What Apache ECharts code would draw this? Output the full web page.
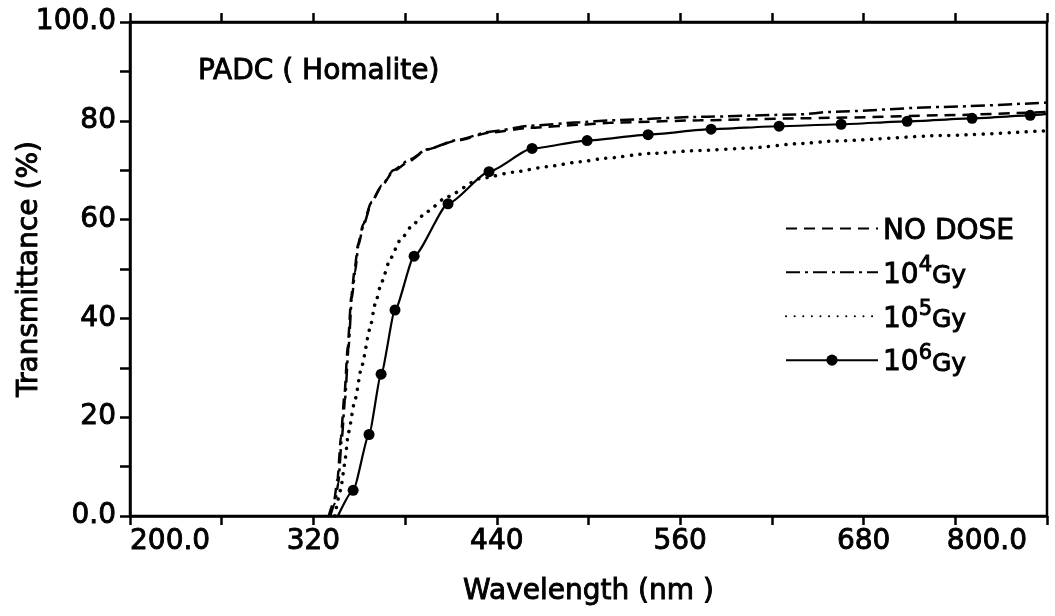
<!DOCTYPE html>
<html>
<head>
<meta charset="utf-8">
<script src="https://cdn.jsdelivr.net/npm/echarts@6/dist/echarts.min.js"></script>
<style>
html,body{margin:0;padding:0;background:#fff;}
#chart{width:1055px;height:616px;}
</style>
</head>
<body>
<div id="chart"></div>
<script>
// ---- data ----
const noDoseWl = [330, 333.5, 335.8, 338, 340.3, 342.5, 344.8, 347, 349.2, 352.5, 358, 364.7, 372.3, 383.2, 394.2, 413.8, 435.6, 461.8, 494.5, 514, 573, 638.5, 658, 730, 800];
const noDoseT  = [0, 3, 7.5, 16, 24.5, 34.5, 44.5, 50, 55, 59, 63.6, 66.8, 69.8, 71.9, 74.2, 76.0, 77.6, 78.6, 79.2, 79.6, 80.1, 80.5, 80.6, 81.1, 81.8];

const gy4Wl = [331, 334.2, 336.3, 338.5, 340.7, 342.9, 345.1, 347.3, 349.4, 352.7, 358.2, 364.7, 372.3, 383.2, 394.2, 413.8, 435.6, 461.8, 494.5, 514, 573, 638.5, 658, 730, 800];
const gy4T  = [0, 2.6, 6.7, 15.4, 23.6, 33.7, 43.9, 49.4, 54.7, 58.8, 63.6, 66.9, 70.0, 72.2, 74.2, 76.1, 77.8, 79.0, 79.7, 80.1, 80.8, 81.3, 81.8, 82.8, 83.7];

const gy5Wl = [334, 337.9, 339.6, 340.7, 342.9, 347.3, 351.6, 357.1, 360.3, 364.7, 370.2, 376.7, 385.4, 394.2, 407.3, 429.1, 450.9, 472.7, 494.5, 510.9, 540.3, 573, 605.8, 638.5, 660.3, 730, 800];
const gy5T  = [0, 5.3, 8.7, 11.4, 16.9, 23.6, 30.3, 38, 42.8, 47.4, 52.0, 55.8, 59.1, 61.6, 64.6, 68.3, 69.6, 70.7, 71.7, 72.4, 73.4, 74.0, 74.5, 75.4, 75.9, 77.0, 78.0];

const gy6Wl = [336, 346, 356.4, 364.3, 373.4, 385.9, 408.1, 434.9, 463.1, 499.1, 539.0, 580.2, 624.7, 665.3, 708.5, 751.0, 789.0, 800];
const gy6T  = [0, 5.2, 16.5, 28.7, 41.7, 52.6, 63.2, 69.7, 74.4, 76.0, 77.2, 78.3, 78.9, 79.3, 79.9, 80.5, 81.1, 81.4];

const seriesNames = ['NO DOSE', '10^4Gy', '10^5Gy', '10^6Gy'];
const xLabelTicks = [200, 320, 440, 560, 680, 800];
const yLabelTicks = [0, 20, 40, 60, 80, 100];
const titleText = 'PADC ( Homalite)';
const xName = 'Wavelength (nm )';
const yName = 'Transmittance (%)';

// ---- build ----
const FONT = 'DejaVu Sans';
function ts(size, extra){
  return Object.assign({fontFamily:FONT, fontSize:size, fontWeight:'normal', color:'#000', textBorderColor:'#000', textBorderWidth:0.9}, extra||{});
}
function pairs(xs, ys){ return xs.map((x,i)=>[x, ys[i]]); }
const gy6Data = pairs(gy6Wl, gy6T).map((p,i,a)=>(i===0||i===a.length-1)?{value:p, symbol:'none'}:p);

function xFmt(v){
  if (xLabelTicks.indexOf(v) < 0) return '';
  if (v === 200) return v.toFixed(1);
  if (v === 800) return '{r|' + v.toFixed(1) + '}';
  return String(v);
}
function yFmt(v){
  if (yLabelTicks.indexOf(v) < 0) return '';
  if (v === 0 || v === 100) return v.toFixed(1);
  return String(v);
}

const chart = echarts.init(document.getElementById('chart'), null, {renderer:'canvas'});
const base = {type:'line', smooth:0.2, smoothMonotone:'x', showSymbol:false, symbol:'none', color:'#000'};
chart.setOption({
  animation:false,
  backgroundColor:'#fff',
  title:{text:titleText, left:193, top:53, textStyle:ts(28)},
  grid:{left:130, right:8, top:22, bottom:100, outerBoundsMode:'none', containLabel:false, show:true, borderColor:'#000', borderWidth:2.5},
  legend:{
    orient:'vertical', left:780, top:212, itemWidth:92, itemHeight:14, itemGap:9,
    data:seriesNames.map((n,i)=> i<3 ? {name:n, itemStyle:{opacity:0}} : {name:n}),
    formatter:function(name){
      if (name.indexOf('^')<0) return '{b|'+name+'}';
      const m = name.match(/^(\d+)\^(\d+)(.*)$/);
      return '{b|'+m[1]+'}{s|'+m[2]+'}{g|'+m[3]+'}';
    },
    textStyle:ts(28, {
      rich:{
        b:ts(28, {lineHeight:34, verticalAlign:'bottom'}),
        s:ts(21, {lineHeight:34, verticalAlign:'top'}),
        g:ts(25, {lineHeight:34, verticalAlign:'bottom'})
      }
    })
  },
  xAxis:[{
    type:'value', min:200, max:800, interval:60, position:'bottom',
    name:xName, nameLocation:'middle', nameGap:62, nameMoveOverlap:false,
    nameTextStyle:ts(28),
    axisLine:{show:true, lineStyle:{color:'#000', width:2.5}},
    axisTick:{show:true, inside:false, length:9, lineStyle:{color:'#000', width:2.5}},
    axisLabel:Object.assign(ts(28), {formatter:xFmt, margin:12, alignMinLabel:'left', alignMaxLabel:'right', showMinLabel:true, showMaxLabel:true,
      rich:{r:ts(28, {padding:[0,20,0,0]})}}),
    splitLine:{show:false}
  },{
    type:'value', min:200, max:800, interval:60, position:'top',
    axisLine:{show:true, lineStyle:{color:'#000', width:2.5}},
    axisTick:{show:true, inside:false, length:9, lineStyle:{color:'#000', width:2.5}},
    axisLabel:{show:false}, splitLine:{show:false}
  }],
  yAxis:[{
    type:'value', min:0, max:100, interval:10,
    name:yName, nameLocation:'middle', nameGap:86, nameRotate:90, nameMoveOverlap:false,
    nameTextStyle:ts(28),
    axisLine:{show:true, lineStyle:{color:'#000', width:2.5}},
    axisTick:{show:true, inside:false, length:10, lineStyle:{color:'#000', width:2.5}},
    axisLabel:Object.assign(ts(28), {formatter:yFmt, margin:14, showMinLabel:true, showMaxLabel:true}),
    splitLine:{show:false}
  }],
  series:[
    Object.assign({}, base, {name:seriesNames[0], data:pairs(noDoseWl, noDoseT), lineStyle:{color:'#000', width:2.5, type:[11,7]}}),
    Object.assign({}, base, {name:seriesNames[1], data:pairs(gy4Wl, gy4T), lineStyle:{color:'#000', width:2.5, type:[14,5,3,5]}}),
    Object.assign({}, base, {name:seriesNames[2], data:pairs(gy5Wl, gy5T), lineStyle:{color:'#000', width:3.5, type:[0.1,8.5], cap:'round'}}),
    Object.assign({}, base, {name:seriesNames[3], data:gy6Data, showSymbol:true, symbol:'circle', symbolSize:11,
      itemStyle:{color:'#000'}, lineStyle:{color:'#000', width:2.2, type:'solid'}})
  ]
});
</script>
</body>
</html>
